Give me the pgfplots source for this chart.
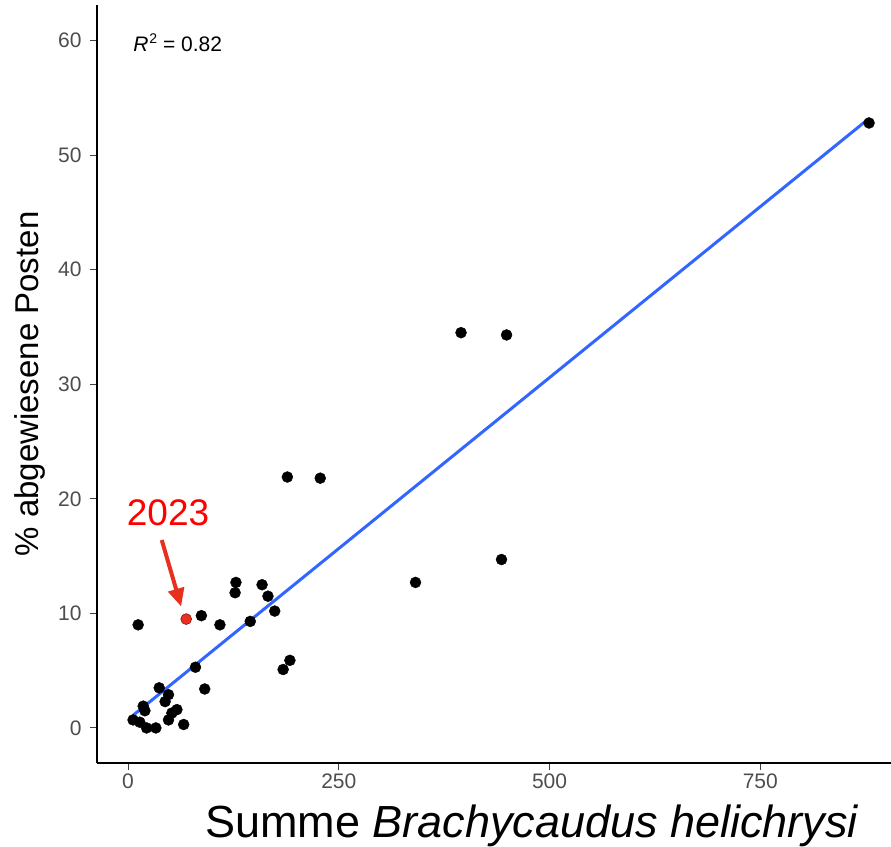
\documentclass[border=0pt]{standalone}
\usepackage{fontspec}
\setmainfont{Liberation Sans}
\usepackage{pgfplots}
\pgfplotsset{compat=1.18}
\usetikzlibrary{arrows.meta}

\definecolor{fitblue}{HTML}{3366FF}
\definecolor{ticklab}{HTML}{4D4D4D}
\definecolor{hl}{HTML}{E8301E}

\begin{document}
\begin{tikzpicture}
\useasboundingbox (0,0) rectangle (891bp,847bp);
\begin{axis}[
    at={(97bp,84bp)}, anchor=south west,
    scale only axis, width=794bp, height=758bp,
    xmin=-36.8, xmax=905, ymin=-3.06, ymax=63.1,
    axis lines=left,
    axis line style={-, line width=1.1bp, black},
    xtick={0,250,500,750}, ytick={0,10,20,30,40,50,60},
    minor tick num=0,
    tick align=outside, major tick length=7bp,
    tick style={line width=1bp, black!75},
    ticklabel style={font=\fontsize{21bp}{25bp}\selectfont, text=ticklab},
    yticklabel style={xshift=-5bp},
    /pgf/number format/assume math mode=true,
    xlabel={Summe \textit{Brachycaudus helichrysi}},
    xlabel style={font=\fontsize{45bp}{50bp}\selectfont,
        at={(axis description cs:0.548,0)}, anchor=base, yshift=-74bp},
    ylabel={\% abgewiesene Posten},
    ylabel style={font=\fontsize{33bp}{38bp}\selectfont,
        at={(axis description cs:-0.0743,0.5)}, anchor=base},
]
\addplot[fitblue, line width=3bp] coordinates {(6,1.1) (879,53.2)};

\addplot[only marks, mark=*, mark size=5.5bp, black] coordinates {
(879,52.8) (395,34.5) (449,34.3) (189,21.9) (228,21.8) (443,14.7)
(341,12.7) (128,12.7) (127,11.8) (159,12.5) (166,11.5) (174,10.2)
(145,9.3) (109,9.0) (87,9.8) (12,9.0) (80,5.3) (184,5.1) (192,5.9)
(91,3.4) (37,3.5) (48,2.9) (44,2.3) (18,1.9) (20,1.5) (58,1.6)
(52,1.3) (48,0.7) (6,0.7) (14,0.5) (22,0.0) (33,0.0) (66,0.3)
};
\addplot[only marks, mark=*, mark size=5.5bp, draw=black!60!red, fill=hl] coordinates {(69,9.5)};

\node[anchor=base west, inner sep=0pt, font=\fontsize{21bp}{25bp}\selectfont] at (axis cs:6,59.0) {\textit{R}\kern1bp\raisebox{0.75ex}{\fontsize{14bp}{16bp}\selectfont 2} = 0.82};
\node[anchor=base, text=red, font=\fontsize{37bp}{42bp}\selectfont] at (axis cs:47.5,17.7) {2023};
\draw[hl, line width=4bp, -{Triangle[length=18bp,width=16bp]}] (axis cs:40,16.4) -- (axis cs:63,10.6);
\end{axis}
\end{tikzpicture}
\end{document}
